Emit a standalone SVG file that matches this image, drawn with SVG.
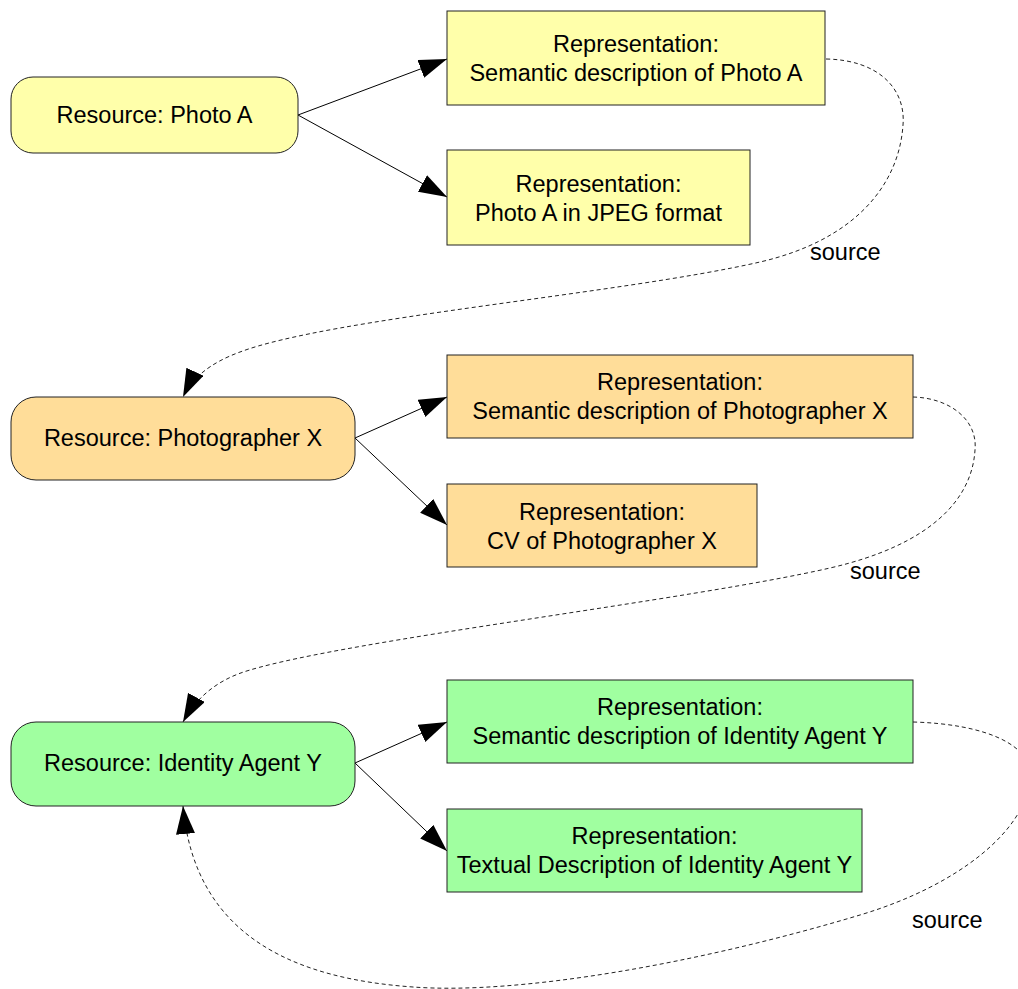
<svg xmlns="http://www.w3.org/2000/svg" width="1018" height="989" viewBox="0 0 1018 989">
  <style>
    text { font-family: "Liberation Sans", Arial, Helvetica, sans-serif; font-size: 23.5px; fill: #000; }
    .c { text-anchor: middle; }
    .node { stroke: #222; stroke-width: 1; }
    .res-a { fill: #ffffaa; }
    .res-b { fill: #ffdd99; }
    .res-c { fill: #a0ffa0; }
    .edge { fill: none; stroke: #000; stroke-width: 1; }
    .src { fill: none; stroke: #222; stroke-width: 1; stroke-dasharray: 4 3; }
  </style>
  <defs>
    <marker id="arrow" markerUnits="userSpaceOnUse" markerWidth="30" markerHeight="20" refX="28" refY="9.5" orient="auto">
      <path d="M0,0 L28,9.5 L0,19 Z" fill="#000"/>
    </marker>
  </defs>

  <rect width="1018" height="989" fill="#fff"/>

  <!-- connectors -->
  <g id="connectors">
    <path class="edge" d="M298,115 L447,59" marker-end="url(#arrow)"/>
    <path class="edge" d="M298,115 L447,197" marker-end="url(#arrow)"/>
    <path class="edge" d="M355,438 L447,397" marker-end="url(#arrow)"/>
    <path class="edge" d="M355,438 L447,525" marker-end="url(#arrow)"/>
    <path class="edge" d="M355,763 L447,722" marker-end="url(#arrow)"/>
    <path class="edge" d="M355,763 L447,851" marker-end="url(#arrow)"/>

    <path class="src" d="M826,59 C880,60 906,90 903,125 C899,185 855,240 760,262 C620,294 330,318 240,352 C210,363 192,378 183,397" marker-end="url(#arrow)"/>
    <text x="810" y="260">source</text>

    <path class="src" d="M913,397 C950,398 978,420 975,450 C972,500 930,545 830,568 C690,600 350,640 250,670 C215,680 195,700 183,722" marker-end="url(#arrow)"/>
    <text x="850" y="579">source</text>

    <path class="src" d="M913,722 C985,724 1035,745 1030,780 C1025,830 960,885 860,915 C700,963 520,995 413,987 C300,979 195,940 183,806" marker-end="url(#arrow)"/>
    <text x="912" y="928">source</text>
  </g>

  <!-- Photo A -->
  <g id="resource-photo-a">
    <rect class="node res-a" x="11" y="77" width="287" height="76" rx="22" ry="22"/>
    <text class="c" x="154.5" y="123">Resource: Photo A</text>
  </g>
  <g id="rep-photo-a-semantic">
    <rect class="node res-a" x="447" y="11" width="378" height="94"/>
    <text class="c" x="636" y="52">Representation:</text>
    <text class="c" x="636" y="81">Semantic description of Photo A</text>
  </g>
  <g id="rep-photo-a-jpeg">
    <rect class="node res-a" x="447" y="150" width="303" height="95"/>
    <text class="c" x="598.5" y="192">Representation:</text>
    <text class="c" x="598.5" y="221">Photo A in JPEG format</text>
  </g>

  <!-- Photographer X -->
  <g id="resource-photographer-x">
    <rect class="node res-b" x="11" y="397" width="344" height="83" rx="25" ry="25"/>
    <text class="c" x="183" y="446">Resource: Photographer X</text>
  </g>
  <g id="rep-photographer-x-semantic">
    <rect class="node res-b" x="447" y="355" width="466" height="83"/>
    <text class="c" x="680" y="390">Representation:</text>
    <text class="c" x="680" y="419">Semantic description of Photographer X</text>
  </g>
  <g id="rep-photographer-x-cv">
    <rect class="node res-b" x="447" y="484" width="310" height="83"/>
    <text class="c" x="602" y="520">Representation:</text>
    <text class="c" x="602" y="549">CV of Photographer X</text>
  </g>

  <!-- Identity Agent Y -->
  <g id="resource-identity-agent-y">
    <rect class="node res-c" x="11" y="722" width="344" height="84" rx="25" ry="25"/>
    <text class="c" x="183" y="771">Resource: Identity Agent Y</text>
  </g>
  <g id="rep-identity-agent-y-semantic">
    <rect class="node res-c" x="447" y="680" width="466" height="83"/>
    <text class="c" x="680" y="715">Representation:</text>
    <text class="c" x="680" y="744">Semantic description of Identity Agent Y</text>
  </g>
  <g id="rep-identity-agent-y-text">
    <rect class="node res-c" x="447" y="809" width="415" height="83"/>
    <text class="c" x="654.5" y="844">Representation:</text>
    <text class="c" x="654.5" y="873">Textual Description of Identity Agent Y</text>
  </g>
</svg>
